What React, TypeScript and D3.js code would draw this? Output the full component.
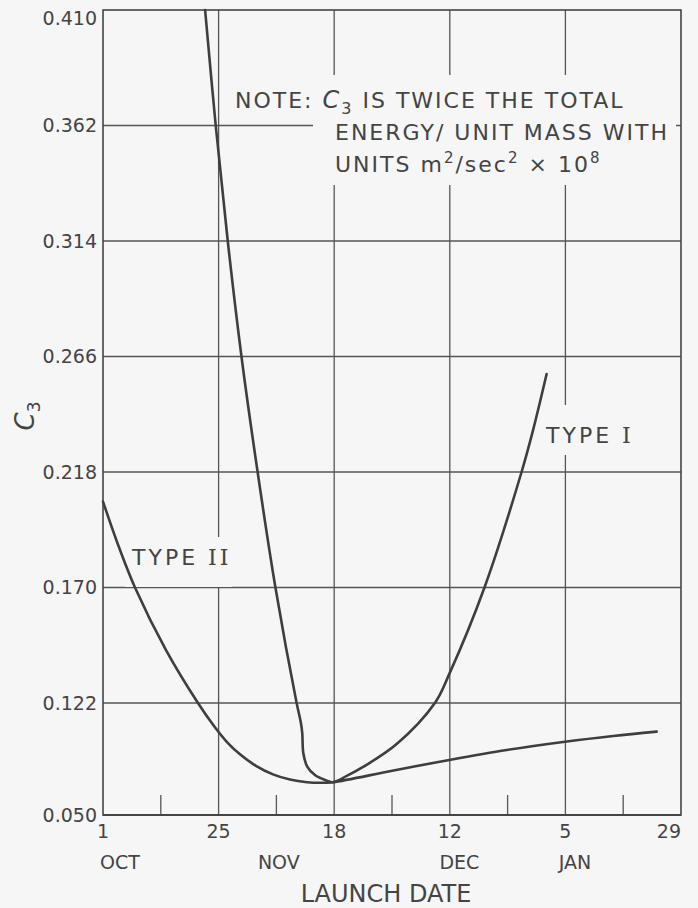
import React, { useEffect, useRef } from 'react';
import * as d3 from 'd3';

//  C3 axis ticks (the lowest band of the axis is compressed on the original plot)
const yTicks = [0.050, 0.122, 0.170, 0.218, 0.266, 0.314, 0.362, 0.410];
const yTickLabels = ['0.050', '0.122', '0.170', '0.218', '0.266', '0.314', '0.362', '0.410'];

//  Launch date axis, in days after 1 Oct
const xTickDays = [0, 24, 48, 72, 96, 120];
const xTickLabels = ['1', '25', '18', '12', '5', '29'];
const minorTickDays = [12, 36, 60, 84, 108];
const monthLabels = ['OCT', 'NOV', 'DEC', 'JAN'];
const monthDays = [3.5, 36.5, 74, 98];

//  Type I curve
const typeIDays = [21.2, 23.4, 25.9, 28.75, 32.1, 35.8, 40.2, 41.1, 41.37, 41.59, 42.4, 44.0, 46.1, 47.75, 50.6, 54.0, 60.97, 68.9, 71.9, 79.2, 86.9, 89.3, 92.1];
const typeIC3 = [0.410, 0.362, 0.314, 0.266, 0.218, 0.170, 0.122, 0.1090, 0.1025, 0.0897, 0.0811, 0.0757, 0.0725, 0.0711, 0.0751, 0.0809, 0.0956, 0.122, 0.1341, 0.170, 0.218, 0.2355, 0.2587];

//  Type II curve
const typeIIDays = [0, 3.32, 6.64, 13.08, 19.72, 23.04, 25.74, 28.44, 31.76, 35.29, 38.82, 42.35, 45.05, 47.75, 59.79, 71.89, 83.81, 95.91, 105.94, 114.95];
const typeIIC3 = [0.2057, 0.1867, 0.170, 0.1440, 0.122, 0.1072, 0.0969, 0.0890, 0.0816, 0.0761, 0.0728, 0.0711, 0.0707, 0.0711, 0.0783, 0.0854, 0.0918, 0.0971, 0.1008, 0.1036];

const WIDTH = 698;
const HEIGHT = 908;
const BG = '#f6f6f6';
const INK = '#3e3e3e';
const FONT = '"DejaVu Sans", sans-serif';

export default function App() {
    const ref = useRef<SVGSVGElement>(null);

    useEffect(() => {
        const svg = d3.select(ref.current);
        svg.selectAll('*').remove();

        const x = d3.scaleLinear().domain([0, 120]).range([103, 681]);
        //  0.050 - 0.122 band is drawn shorter than the others
        const y = d3.scaleLinear().domain([0.050, 0.122, 0.410]).range([815, 703, 10]);

        svg.append('rect').attr('width', WIDTH).attr('height', HEIGHT).attr('fill', BG);

        const g = svg.append('g');

        //  grid
        g.selectAll('.hgrid').data(yTicks.slice(1, -1)).enter().append('line')
            .attr('x1', x(0)).attr('x2', x(120))
            .attr('y1', d => y(d)).attr('y2', d => y(d))
            .attr('stroke', '#555').attr('stroke-width', 1.3);

        g.selectAll('.vgrid').data(xTickDays.slice(1, -1)).enter().append('line')
            .attr('x1', d => x(d)).attr('x2', d => x(d))
            .attr('y1', y(0.410)).attr('y2', y(0.050))
            .attr('stroke', '#555').attr('stroke-width', 1.3);

        g.selectAll('.minor').data(minorTickDays).enter().append('line')
            .attr('x1', d => x(d)).attr('x2', d => x(d))
            .attr('y1', y(0.050) - 20).attr('y2', y(0.050))
            .attr('stroke', '#555').attr('stroke-width', 1.3);

        //  masks behind the labels, gridlines break there
        const masks = [
            [313, 75, 363, 110],
            [125, 537, 107, 50],
            [540, 405, 92, 50],
        ];
        masks.forEach(m => {
            g.append('rect').attr('x', m[0]).attr('y', m[1]).attr('width', m[2]).attr('height', m[3]).attr('fill', BG);
        });

        //  frame
        g.append('rect')
            .attr('x', x(0)).attr('y', y(0.410))
            .attr('width', x(120) - x(0)).attr('height', y(0.050) - y(0.410))
            .attr('fill', 'none').attr('stroke', '#444').attr('stroke-width', 1.6);
        g.append('line')
            .attr('x1', x(0)).attr('x2', x(120)).attr('y1', y(0.050)).attr('y2', y(0.050))
            .attr('stroke', '#444').attr('stroke-width', 2.2);

        //  curves
        const line = d3.line<[number, number]>()
            .curve(d3.curveCatmullRom.alpha(0.5))
            .x(d => x(d[0]))
            .y(d => y(d[1]));

        const curves = [
            typeIIDays.map((d, i) => [d, typeIIC3[i]] as [number, number]),
            typeIDays.map((d, i) => [d, typeIC3[i]] as [number, number]),
        ];

        curves.forEach(data => {
            g.append('path').datum(data)
                .attr('fill', 'none')
                .attr('stroke', INK)
                .attr('stroke-width', 2.6)
                .attr('stroke-linejoin', 'round')
                .attr('stroke-linecap', 'round')
                .attr('d', line);
        });

        //  y tick labels
        g.selectAll('.ylab').data(yTicks).enter().append('text')
            .attr('x', x(0) - 6)
            .attr('y', (d, i) => y(d) + (i === yTicks.length - 1 ? 8 : 0))
            .attr('dy', '0.36em')
            .attr('text-anchor', 'end')
            .attr('font-family', FONT).attr('font-size', 19).attr('fill', '#444')
            .text((d, i) => yTickLabels[i]);

        //  x tick labels
        g.selectAll('.xlab').data(xTickDays).enter().append('text')
            .attr('x', d => x(d))
            .attr('y', 838)
            .attr('text-anchor', (d, i) => i === xTickDays.length - 1 ? 'end' : 'middle')
            .attr('font-family', FONT).attr('font-size', 19).attr('fill', '#444')
            .text((d, i) => xTickLabels[i]);

        g.selectAll('.month').data(monthDays).enter().append('text')
            .attr('x', d => x(d))
            .attr('y', 869)
            .attr('text-anchor', 'middle')
            .attr('font-family', FONT).attr('font-size', 19).attr('fill', '#444')
            .text((d, i) => monthLabels[i]);

        g.append('text')
            .attr('x', 386).attr('y', 902)
            .attr('text-anchor', 'middle')
            .attr('font-family', FONT).attr('font-size', 24).attr('fill', '#444')
            .text('LAUNCH DATE');

        //  y axis title
        const yTitle = g.append('text')
            .attr('transform', 'translate(34, 416) rotate(-90)')
            .attr('text-anchor', 'middle')
            .attr('font-family', FONT).attr('font-size', 26).attr('fill', '#444');
        yTitle.append('tspan').attr('font-style', 'italic').text('C');
        yTitle.append('tspan').attr('font-size', 17).attr('dy', 6).text('3');

        //  note
        const noteStyle = (t: d3.Selection<SVGTextElement, unknown, null, undefined>) =>
            t.attr('font-family', FONT).attr('font-size', 22).attr('fill', '#444').attr('letter-spacing', 2);

        const l1 = g.append('text').attr('x', 235).attr('y', 108).call(noteStyle);
        l1.append('tspan').text('NOTE: ');
        l1.append('tspan').attr('font-style', 'italic').attr('font-size', 24).text('C');
        l1.append('tspan').attr('font-size', 16).attr('dy', 6).text('3');
        l1.append('tspan').attr('dy', -6).text(' IS TWICE THE TOTAL');

        g.append('text').attr('x', 335).attr('y', 140).call(noteStyle).text('ENERGY/ UNIT MASS WITH');

        const l3 = g.append('text').attr('x', 335).attr('y', 172).call(noteStyle);
        l3.append('tspan').text('UNITS m');
        l3.append('tspan').attr('font-size', 15).attr('dy', -9).text('2');
        l3.append('tspan').attr('dy', 9).text('/sec');
        l3.append('tspan').attr('font-size', 15).attr('dy', -9).text('2');
        l3.append('tspan').attr('dy', 9).text(' \u00d7 10');
        l3.append('tspan').attr('font-size', 15).attr('dy', -9).text('8');

        //  curve labels
        const t2 = g.append('text').attr('x', 132).attr('y', 565)
            .attr('font-family', FONT).attr('font-size', 22).attr('fill', '#444').attr('letter-spacing', 3);
        t2.append('tspan').text('TYPE ');
        t2.append('tspan').attr('font-family', '"DejaVu Serif", serif').text('II');

        const t1 = g.append('text').attr('x', 546).attr('y', 443)
            .attr('font-family', FONT).attr('font-size', 22).attr('fill', '#444').attr('letter-spacing', 3);
        t1.append('tspan').text('TYPE ');
        t1.append('tspan').attr('font-family', '"DejaVu Serif", serif').text('I');
    }, []);

    return (
        <svg ref={ref} width={WIDTH} height={HEIGHT}
            style={{ position: 'absolute', left: 0, top: 0, display: 'block' }} />
    );
}
